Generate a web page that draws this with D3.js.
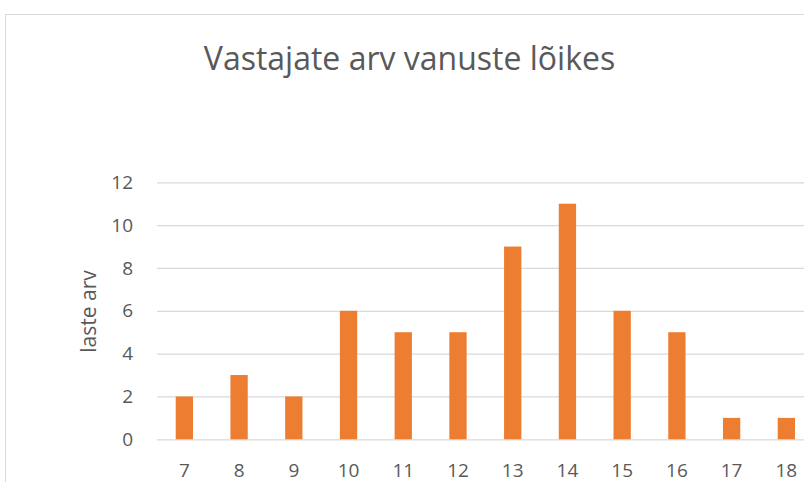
<!DOCTYPE html>
<html lang="et">
<head>
    <meta charset="utf-8" />
    <script src="https://d3js.org/d3.v7.min.js"></script>
    <style>
        body { margin: 0; background: #fff; }
        text { font-family: "Open Sans", sans-serif; fill: #595959; }
    </style>
</head>
<body>
<div id="chart"></div>
<script>
    // andmed
    var vanused = ["7", "8", "9", "10", "11", "12", "13", "14", "15", "16", "17", "18"];
    var lasteArv = [2, 3, 2, 6, 5, 5, 9, 11, 6, 5, 1, 1];
    var yTicks = [0, 2, 4, 6, 8, 10, 12];
    var pealkiri = "Vastajate arv vanuste lõikes";
    var yPealkiri = "laste arv";

    var width = 804, height = 482;
    var plot = {left: 157, right: 813.7, top: 182.3, bottom: 439.3};

    var svg = d3.select("#chart").append("svg")
        .attr("width", width)
        .attr("height", height);

    svg.append("rect")
        .attr("width", width).attr("height", height)
        .attr("fill", "#fff");

    // diagrammi raam (paremalt ja alt ära lõigatud)
    svg.append("path")
        .attr("d", "M5.5," + height + "V14.5H" + width)
        .attr("fill", "none")
        .attr("stroke", "#d9d9d9")
        .attr("stroke-width", 1);

    var x = d3.scaleBand()
        .domain(vanused)
        .range([plot.left, plot.right])
        .paddingInner(0.684)
        .paddingOuter(0.342);

    var y = d3.scaleLinear()
        .domain([0, 12])
        .range([plot.bottom, plot.top]);

    // ruudustik
    var yAxis = d3.axisLeft(y)
        .tickValues(yTicks)
        .tickSize(-(plot.right - plot.left))
        .tickPadding(24);

    var gy = svg.append("g")
        .attr("transform", "translate(" + plot.left + ",0)")
        .call(yAxis);
    gy.select(".domain").remove();
    gy.selectAll(".tick line")
        .attr("stroke", "#d9d9d9")
        .attr("stroke-width", 1.3);
    gy.selectAll(".tick text")
        .attr("font-size", 19)
        .attr("font-family", "Open Sans")
        .attr("fill", "#595959");

    // tulbad
    svg.append("g")
        .selectAll("rect")
        .data(lasteArv)
        .enter()
        .append("rect")
        .attr("x", function(d, i) { return x(vanused[i]); })
        .attr("y", function(d) { return y(d); })
        .attr("width", x.bandwidth())
        .attr("height", function(d) { return y(0) - y(d); })
        .attr("fill", "#ed7d31");

    // x telg
    var xAxis = d3.axisBottom(x).tickSize(0).tickPadding(24);
    var gx = svg.append("g")
        .attr("transform", "translate(0," + plot.bottom + ")")
        .call(xAxis);
    gx.select(".domain").remove();
    gx.selectAll(".tick text")
        .attr("font-size", 19)
        .attr("font-family", "Open Sans")
        .attr("fill", "#595959");

    // telje pealkiri
    svg.append("text")
        .attr("transform", "translate(96,311.5) rotate(-90)")
        .attr("text-anchor", "middle")
        .attr("font-size", 21)
        .text(yPealkiri);

    // pealkiri
    svg.append("text")
        .attr("x", 409.5)
        .attr("y", 70)
        .attr("text-anchor", "middle")
        .attr("font-size", 32)
        .text(pealkiri);
</script>
</body>
</html>
